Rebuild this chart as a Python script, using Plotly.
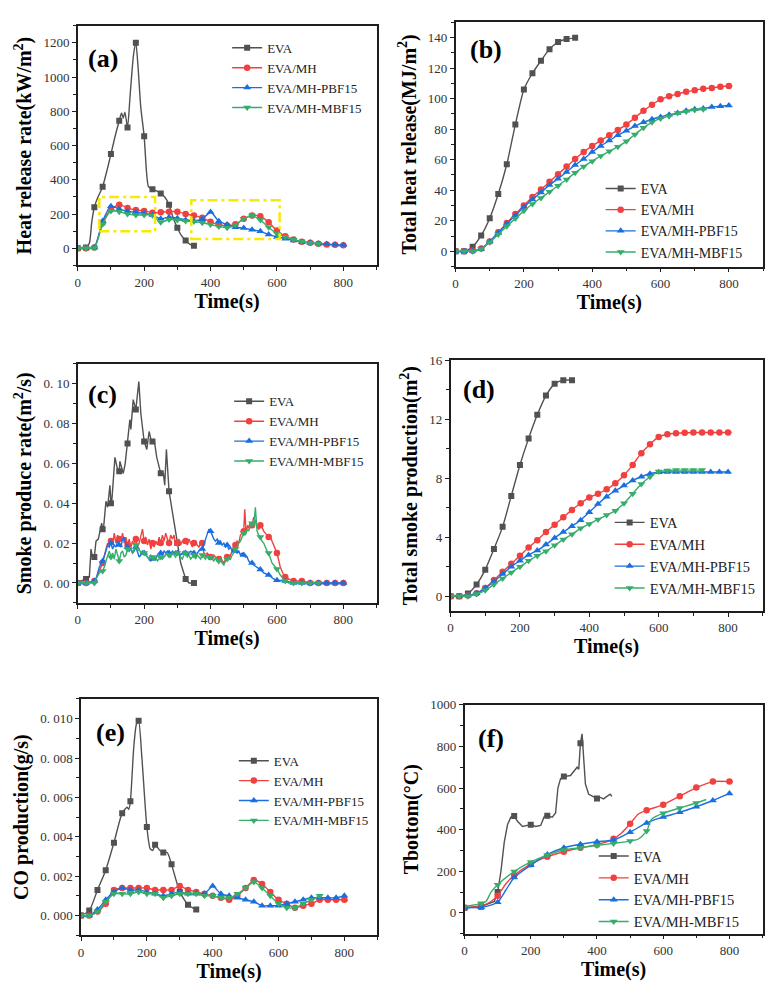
import plotly.graph_objects as go

PAGE_W, PAGE_H = 783, 1000
OFF = 8  # default body margin of the html page
W, H = PAGE_W - 2 * OFF, PAGE_H - 2 * OFF

names = ["EVA", "EVA/MH", "EVA/MH-PBF15", "EVA/MH-MBF15"]
colors = ["#515151", "#F14040", "#1A6FDF", "#37AD6B"]
symbols = ["square", "circle", "triangle-up", "triangle-down"]
msizes = [6, 6.5, 7, 7]

# common time grids (s)
t_eva = [0, 25, 50, 75, 100, 125, 150, 175, 200, 225, 250, 275, 300, 325, 350]
t_mh = [0, 25, 50, 75, 100, 125, 150, 175, 200, 225, 250, 275, 300, 325, 350, 375, 400,
        425, 450, 475, 500, 525, 550, 575, 600, 625, 650, 675, 700, 725, 750, 775, 800, 810]
t_pbf = [0, 25, 50, 75, 100, 125, 150, 175, 200, 225, 250, 275, 300, 325, 350, 375, 400,
         425, 450, 475, 500, 525, 550, 575, 600, 625, 650, 675, 700, 725, 750, 775, 800]
t_mbf = [0, 25, 50, 75, 100, 125, 150, 175, 200, 225, 250, 275, 300, 325, 350, 375, 400,
         425, 450, 475, 500, 525, 550, 575, 600, 625, 650, 675, 700, 725]

# (a) heat release rate (kW/m2)
a_eva_t = [0, 25, 35, 42, 50, 60, 75, 90, 100, 112, 125, 132, 137, 142, 150, 158, 168, 175,
           182, 190, 200, 207, 213, 225, 237, 250, 262, 275, 287, 300, 312, 325, 337, 350]
a_eva = [0, 5, 30, 150, 240, 295, 360, 470, 550, 650, 745, 790, 760, 795, 705, 900, 1130, 1200,
         1050, 820, 654, 450, 360, 345, 335, 320, 300, 255, 180, 120, 75, 45, 25, 15]
a_mh = [0, 0, 5, 150, 228, 255, 236, 224, 218, 208, 210, 214, 214, 201, 191, 178, 155,
        137, 133, 140, 172, 191, 188, 152, 104, 71, 52, 38, 32, 27, 23, 21, 18, 18]
a_pbf = [0, 0, 5, 160, 245, 230, 216, 210, 205, 195, 172, 182, 176, 166, 160, 170, 212,
         158, 139, 123, 118, 108, 99, 81, 66, 56, 46, 36, 32, 27, 25, 21, 20]
a_mbf = [0, 0, 3, 140, 218, 214, 200, 195, 195, 193, 152, 168, 166, 160, 156, 149, 139,
         127, 120, 137, 172, 191, 165, 123, 85, 68, 50, 40, 32, 26]

# (b) total heat release (MJ/m2)
b_eva = [0, 0, 3, 10.4, 21.7, 37.5, 57, 83, 106, 116.6, 124.8, 132.4, 137, 139, 139.8]
b_mh = [0, 0, 0.3, 1.8, 6.5, 12.5, 18.5, 24.5, 30, 35.5, 40.5, 45.5, 50.5, 55.5, 60.5, 65, 69,
        72.5, 76, 79.5, 83, 87.5, 92, 96, 99.5, 101.5, 103, 104.5, 105.5, 106.5, 107, 107.8, 108.3, 108.3]
b_pbf = [0, 0, 0.3, 1.5, 6.5, 12, 18, 23.5, 29, 34, 38.5, 43.5, 47.5, 52, 56.5, 60.5, 65,
         69, 72.5, 76, 79, 82, 84.5, 86.5, 88, 89.5, 90.5, 92, 93, 93.5, 94.5, 95, 95.5]
b_mbf = [0, 0, 0, 1.5, 6, 11, 16.5, 21.5, 26.5, 31, 35, 39, 43, 47, 51.5, 55.5, 59,
         62.5, 65.5, 68.5, 72, 76.5, 81, 84.5, 87, 88.5, 90.5, 91.5, 92.5, 93]

# (c) smoke produce rate (m2/s)
c_eva_t = [0, 25, 35, 40, 45, 50, 55, 62, 72, 75, 78, 85, 90, 97, 100, 103, 112, 120, 125, 127,
           137, 143, 150, 157, 160, 167, 175, 184, 190, 200, 208, 215, 223, 225, 230, 238, 250,
           258, 262, 267, 275, 290, 300, 310, 325, 335, 350]
c_eva = [0, 0.002, 0.003, 0.017, 0.012, 0.013, 0.021, 0.022, 0.030, 0.027, 0.028, 0.041, 0.038,
         0.049, 0.040, 0.042, 0.063, 0.057, 0.056, 0.061, 0.055, 0.060, 0.070, 0.082, 0.077, 0.092,
         0.087, 0.101, 0.085, 0.071, 0.067, 0.076, 0.070, 0.071, 0.072, 0.063, 0.055, 0.055, 0.049,
         0.067, 0.046, 0.030, 0.020, 0.010, 0.002, 0.000, 0.000]
c_mh_t = [0, 25, 50, 55, 65, 75, 85, 90, 95, 100,
          105, 110, 115, 120, 125, 130, 135, 140, 145, 150,
          155, 160, 165, 170, 175, 180, 185, 190, 195, 200,
          205, 210, 215, 220, 225, 230, 235, 240, 245, 250,
          255, 260, 265, 270, 275, 280, 285, 290, 295, 300,
          305, 310, 315, 320, 325, 330, 335, 340, 345, 350,
          355, 360, 365, 370, 375, 380, 385, 390, 395, 400,
          405, 410, 415, 420, 425, 430, 435, 440, 445, 450,
          455, 460, 465, 470, 475, 480, 485, 490, 495, 500,
          503, 507, 512, 517, 522, 525, 530, 535, 540, 545,
          550, 555, 560, 565, 570, 575, 580, 585, 590, 595,
          600, 610, 620, 625, 635, 650, 675, 700, 725, 750,
          775, 800, 810]
c_mh = [0, 0, 0.001, 0.002, 0.006, 0.010, 0.017, 0.020, 0.019, 0.021,
        0.019, 0.025, 0.020, 0.024, 0.022, 0.021, 0.025, 0.020, 0.023, 0.019,
        0.022, 0.018, 0.021, 0.019, 0.022, 0.018, 0.020, 0.023, 0.027, 0.021,
        0.023, 0.019, 0.022, 0.017, 0.020, 0.018, 0.021, 0.019, 0.023, 0.020,
        0.024, 0.021, 0.025, 0.022, 0.020, 0.024, 0.022, 0.024, 0.019, 0.020,
        0.022, 0.019, 0.021, 0.020, 0.021, 0.019, 0.022, 0.020, 0.018, 0.020,
        0.021, 0.019, 0.018, 0.020, 0.020, 0.015, 0.013, 0.015, 0.014, 0.013,
        0.012, 0.014, 0.013, 0.011, 0.012, 0.013, 0.011, 0.010, 0.012, 0.013,
        0.012, 0.014, 0.016, 0.018, 0.019, 0.021, 0.020, 0.024, 0.025, 0.026,
        0.037, 0.025, 0.029, 0.027, 0.030, 0.029, 0.033, 0.031, 0.028, 0.027,
        0.029, 0.028, 0.026, 0.025, 0.024, 0.023, 0.023, 0.021, 0.019, 0.017,
        0.015, 0.008, 0.004, 0.003, 0.002, 0.001, 0.001, 0.000, 0.000, 0.000,
        0.000, 0.000, 0.000]
c_pbf_t = [0, 25, 50, 55, 65, 75, 85, 90, 95, 100,
           105, 110, 115, 120, 125, 130, 135, 140, 145, 150,
           155, 160, 165, 170, 175, 180, 185, 190, 195, 200,
           205, 210, 215, 220, 225, 230, 235, 240, 245, 250,
           255, 260, 265, 270, 275, 280, 285, 290, 295, 300,
           310, 320, 325, 330, 340, 350, 355, 360, 365, 370,
           375, 380, 385, 390, 395, 400, 405, 410, 415, 420,
           425, 430, 435, 440, 445, 450, 455, 460, 465, 470,
           475, 480, 485, 490, 495, 500, 505, 510, 515, 520,
           525, 530, 540, 550, 560, 575, 590, 600, 625, 650,
           675, 700, 725, 750, 775, 800]
c_pbf = [0, 0, 0.001, 0.002, 0.008, 0.011, 0.016, 0.019, 0.018, 0.020,
         0.017, 0.019, 0.018, 0.021, 0.019, 0.018, 0.022, 0.023, 0.019, 0.018,
         0.016, 0.017, 0.015, 0.016, 0.018, 0.015, 0.013, 0.014, 0.016, 0.015,
         0.014, 0.013, 0.012, 0.011, 0.012, 0.013, 0.012, 0.014, 0.013, 0.015,
         0.014, 0.016, 0.015, 0.016, 0.015, 0.014, 0.016, 0.015, 0.016, 0.015,
         0.014, 0.016, 0.015, 0.014, 0.016, 0.015, 0.013, 0.015, 0.016, 0.017,
         0.017, 0.019, 0.022, 0.025, 0.027, 0.026, 0.024, 0.022, 0.021, 0.022,
         0.020, 0.021, 0.019, 0.020, 0.018, 0.019, 0.017, 0.018, 0.016, 0.017,
         0.016, 0.015, 0.016, 0.014, 0.015, 0.014, 0.013, 0.013, 0.011, 0.010,
         0.010, 0.009, 0.008, 0.0067, 0.005, 0.004, 0.002, 0.0014, 0.001, 0.000,
         0.000, 0.000, 0.000, 0.000, 0.000, 0.000]
c_mbf_t = [0, 25, 50, 55, 65, 75, 80, 85, 90, 95,
           100, 105, 110, 115, 120, 125, 130, 135, 140, 145, 150,
           155, 160, 165, 170, 175, 180, 185, 190, 195, 200,
           205, 210, 215, 220, 225, 230, 235, 240, 245, 250,
           255, 260, 265, 270, 275, 280, 285, 290, 295, 300,
           305, 310, 315, 320, 325, 330, 335, 340, 345, 350,
           355, 360, 365, 370, 375, 380, 385, 390, 395, 400,
           405, 410, 415, 420, 425, 430, 435, 440, 445, 450,
           455, 460, 465, 470, 475, 480, 485, 490, 495, 500,
           505, 510, 515, 520, 525, 530, 535, 540, 545, 550,
           555, 560, 565, 570, 575, 580, 585, 590, 595, 600,
           610, 620, 625, 635, 650, 675, 700, 725, 730]
c_mbf = [0, 0, 0.000, 0.002, 0.005, 0.006, 0.008, 0.011, 0.014, 0.016,
         0.013, 0.015, 0.012, 0.017, 0.014, 0.011, 0.015, 0.016, 0.013, 0.014, 0.017,
         0.016, 0.018, 0.015, 0.017, 0.019, 0.016, 0.017, 0.015, 0.016, 0.015,
         0.014, 0.013, 0.012, 0.014, 0.013, 0.012, 0.013, 0.011, 0.012, 0.013,
         0.012, 0.013, 0.014, 0.015, 0.014, 0.013, 0.015, 0.014, 0.013, 0.015,
         0.014, 0.013, 0.012, 0.014, 0.015, 0.013, 0.014, 0.012, 0.013, 0.014,
         0.012, 0.014, 0.013, 0.012, 0.014, 0.013, 0.012, 0.014, 0.012, 0.013,
         0.012, 0.011, 0.013, 0.012, 0.011, 0.012, 0.010, 0.009, 0.011, 0.012,
         0.013, 0.012, 0.014, 0.015, 0.017, 0.018, 0.020, 0.021, 0.023, 0.025,
         0.024, 0.027, 0.026, 0.029, 0.030, 0.028, 0.038, 0.026, 0.024, 0.023,
         0.021, 0.020, 0.018, 0.016, 0.015, 0.012, 0.010, 0.009, 0.008, 0.007,
         0.004, 0.002, 0.001, 0.000, 0.000, 0.000, 0.000, 0.000, 0.000]

# (d) total smoke production (m2)
d_eva = [0, 0, 0.18, 0.8, 1.8, 3.2, 4.7, 6.8, 8.9, 10.7, 12.3, 13.6, 14.4, 14.65, 14.65]
d_mh = [0, 0, 0.05, 0.2, 0.55, 1.1, 1.65, 2.2, 2.75, 3.3, 3.8, 4.35, 4.85, 5.35, 5.85, 6.3, 6.7,
        6.95, 7.25, 7.65, 8.2, 8.9, 9.7, 10.3, 10.8, 10.98, 11.05, 11.08, 11.1, 11.1, 11.1, 11.1, 11.1, 11.1]
d_pbf = [0, 0, 0.05, 0.2, 0.55, 1.0, 1.5, 2.0, 2.4, 2.8, 3.1, 3.5, 3.95, 4.35, 4.75, 5.15, 5.7,
         6.25, 6.75, 7.15, 7.5, 7.85, 8.1, 8.3, 8.4, 8.42, 8.42, 8.42, 8.42, 8.42, 8.42, 8.42, 8.42]
d_mbf = [0, 0, 0, 0.15, 0.4, 0.8, 1.2, 1.6, 2.0, 2.4, 2.75, 3.05, 3.45, 3.85, 4.2, 4.6, 4.9,
         5.2, 5.5, 5.8, 6.3, 6.95, 7.6, 8.1, 8.45, 8.52, 8.55, 8.55, 8.55, 8.55]

# (e) CO production (g/s)
e_eva_t = [0, 25, 50, 75, 100, 125, 140, 145, 150, 160, 168, 175, 185, 200, 210, 218, 225, 240,
           250, 262, 275, 300, 325, 350]
e_eva = [0, 0.00025, 0.0013, 0.0023, 0.0037, 0.0052, 0.0055, 0.0054, 0.0058, 0.0085, 0.0097,
         0.0099, 0.0080, 0.0045, 0.0034, 0.0033, 0.0036, 0.0033, 0.0032, 0.0032, 0.0026, 0.0012,
         0.00055, 0.0003]
e_mh = [0, 0, 0.0002, 0.0006, 0.0013, 0.0014, 0.0014, 0.0014, 0.0014, 0.0013, 0.0013, 0.0013,
        0.0015, 0.0013, 0.0012, 0.0011, 0.0010, 0.0009, 0.0008, 0.0010, 0.0014, 0.0018, 0.0016,
        0.0012, 0.0008, 0.0006, 0.0004, 0.0005, 0.0006, 0.0008, 0.0008, 0.0008, 0.0008, 0.00075]
e_pbf = [0, 0, 0.0003, 0.0008, 0.0012, 0.0014, 0.0013, 0.0013, 0.0012, 0.0011, 0.0010, 0.0011,
         0.0012, 0.0011, 0.0011, 0.0011, 0.0015, 0.0011, 0.0010, 0.0009, 0.0008, 0.0007, 0.0005,
         0.0005, 0.0005, 0.0006, 0.0007, 0.0008, 0.0009, 0.0009, 0.0009, 0.0009, 0.0010]
e_mbf = [0, 0, 0.0002, 0.0007, 0.0011, 0.0011, 0.0011, 0.0012, 0.0011, 0.0011, 0.0009, 0.0010,
         0.0011, 0.0011, 0.0011, 0.0010, 0.0010, 0.0009, 0.0009, 0.0011, 0.0014, 0.0017, 0.0014,
         0.0010, 0.0006, 0.0004, 0.0004, 0.0006, 0.0008, 0.0010]

# (f) bottom temperature (degC)
f_eva_t = [0, 50, 90, 100, 110, 120, 130, 140, 150, 160, 175, 200, 215, 230, 240, 245, 250, 265,
           275, 282, 290, 300, 320, 335, 340, 345, 350, 355, 360, 365, 375, 390, 400, 410, 420,
           430, 440, 445]
f_eva = [25, 30, 55, 100, 200, 340, 425, 460, 466, 440, 415, 424, 415, 420, 460, 470, 467, 460,
         480, 600, 645, 655, 660, 690, 700, 690, 815, 860, 720, 620, 570, 560, 550, 555, 548,
         560, 570, 560]
f_mh_t = [0, 50, 75, 100, 125, 150, 200, 250, 300, 350, 400, 450, 475, 500, 525, 550, 600, 650,
          700, 750, 800, 810]
f_mh = [25, 35, 50, 83, 140, 181, 234, 270, 294, 313, 328, 356, 385, 428, 475, 493, 520, 561,
        602, 631, 631, 630]
f_pbf_t = [0, 50, 75, 100, 125, 150, 200, 250, 300, 350, 400, 450, 500, 550, 600, 650, 700, 750, 800]
f_pbf = [25, 27, 35, 51, 110, 170, 229, 281, 313, 330, 342, 350, 388, 432, 461, 483, 510, 540, 574]
f_mbf_t = [0, 50, 65, 80, 100, 150, 200, 250, 300, 350, 400, 450, 500, 525, 550, 565, 600, 650,
           700, 730]
f_mbf = [30, 46, 55, 100, 135, 199, 245, 278, 302, 313, 324, 334, 345, 355, 393, 450, 479, 504,
         528, 545]

c_ticks = [0, 0.02, 0.04, 0.06, 0.08, 0.10]
c_ticktext = ["0. 00", "0. 02", "0. 04", "0. 06", "0. 08", "0. 10"]
e_ticks = [0, 0.002, 0.004, 0.006, 0.008, 0.010]
e_ticktext = ["0. 000", "0. 002", "0. 004", "0. 006", "0. 008", "0. 010"]

SERIF = "Liberation Serif"
INK = "#1e1e1e"


def fx(px):
    return (px - OFF) / W


def fy(py):
    return 1 - (py - OFF) / H


# panel geometry in page pixels: left, right, top, bottom
panels = [
    dict(label="(a)", box=(75, 375, 18.75, 260.25), yr=[-100, 1300], dt=200, mdt=100,
         ytitle="Heat release rate(kW/m<sup>2</sup>)",
         series=[(a_eva_t, a_eva), (t_mh, a_mh), (t_pbf, a_pbf), (t_mbf, a_mbf)],
         shapes=["spline"] * 4, step=25, lab=(100, 51.5),
         leg=(225, 26, 13)),
    dict(label="(b)", box=(454.3, 763, 15.3, 261.4), yr=[-10, 150], dt=20, mdt=10,
         ytitle="Total heat release(MJ/m<sup>2</sup>)",
         series=[(t_eva, b_eva), (t_mh, b_mh), (t_pbf, b_pbf), (t_mbf, b_mbf)],
         shapes=["spline"] * 4, step=25, lab=(485, 42.5),
         leg=(600, 167, 14)),
    dict(label="(c)", box=(75, 375, 359.2, 600.1), yr=[-0.01, 0.11], dt=0.02, mdt=0.01,
         ticks=(c_ticks, c_ticktext),
         ytitle="Smoke produce rate(m<sup>2</sup>/s)",
         series=[(c_eva_t, c_eva), (c_mh_t, c_mh), (c_pbf_t, c_pbf), (c_mbf_t, c_mbf)],
         shapes=["linear"] * 4, step=25, lab=(100, 390),
         leg=(227, 382, 13)),
    dict(label="(d)", box=(449.3, 762.7, 355.7, 608.2), yr=[-1, 16], dt=4, mdt=2,
         ytitle="Total smoke production(m<sup>2</sup>)",
         series=[(t_eva, d_eva), (t_mh, d_mh), (t_pbf, d_pbf), (t_mbf, d_mbf)],
         shapes=["spline"] * 4, step=25, lab=(478, 385.5),
         leg=(609, 503, 14.5)),
    dict(label="(e)", box=(78.3, 375.7, 696.9, 934.8), yr=[-0.001, 0.011], dt=0.002, mdt=0.001,
         ticks=(e_ticks, e_ticktext),
         ytitle="CO production(g/s)",
         series=[(e_eva_t, e_eva), (t_mh, e_mh), (t_pbf, e_pbf), (t_mbf, e_mbf)],
         shapes=["spline"] * 4, step=25, lab=(107.5, 731),
         leg=(231.7, 744, 13)),
    dict(label="(f)", box=(463.3, 762.5, 702.7, 933.3), yr=[-100, 1000], dt=200, mdt=100,
         ytitle="Tbottom(°C)",
         series=[(f_eva_t, f_eva), (f_mh_t, f_mh), (f_pbf_t, f_pbf), (f_mbf_t, f_mbf)],
         shapes=["linear", "spline", "spline", "spline"], step=50, lab=(490, 736.5),
         leg=(593, 839, 14.5)),
]

fig = go.Figure()
layout = dict(width=W, height=H, margin=dict(l=0, r=0, t=0, b=0),
              paper_bgcolor="white", plot_bgcolor="white", annotations=[], shapes=[])

for i, p in enumerate(panels, start=1):
    sfx = "" if i == 1 else str(i)
    xa, ya, lg = "x" + sfx, "y" + sfx, "legend" + sfx
    for k, (t, v) in enumerate(p["series"]):
        assert len(t) == len(v), (p["label"], k, len(t), len(v))
        fig.add_trace(go.Scatter(
            x=t, y=v, mode="lines", xaxis=xa, yaxis=ya, showlegend=False, hoverinfo="skip",
            line=dict(color=colors[k], width=1.4, shape=p["shapes"][k], smoothing=0.6)))
        mt = [a for a in t if a % p["step"] == 0]
        mv = [b for a, b in zip(t, v) if a % p["step"] == 0]
        fig.add_trace(go.Scatter(
            x=mt, y=mv, mode="markers", xaxis=xa, yaxis=ya, showlegend=False,
            marker=dict(symbol=symbols[k], size=msizes[k], color=colors[k])))
    for k in range(4):
        fig.add_trace(go.Scatter(
            x=[None], y=[None], mode="lines+markers", name=names[k], xaxis=xa, yaxis=ya,
            legend=lg, line=dict(color=colors[k], width=1.4),
            marker=dict(symbol=symbols[k], size=msizes[k], color=colors[k])))

    l, r, t_, b_ = p["box"]
    axis_common = dict(showline=True, mirror=True, linecolor=INK, linewidth=1.5,
                       ticks="outside", ticklen=4, tickwidth=1.2, tickcolor=INK,
                       showgrid=False, zeroline=False,
                       tickfont=dict(family=SERIF, size=13, color="#333333"))
    layout["xaxis" + sfx] = dict(
        axis_common, domain=[fx(l), fx(r)], anchor=ya, range=[0, 900], dtick=200, tick0=0,
        minor=dict(ticks="outside", ticklen=3, tickcolor=INK, dtick=100, tick0=0),
        title=dict(text="<b>Time(s)</b>", standoff=0,
                   font=dict(family=SERIF, size=20, color="black")))
    ydict = dict(
        axis_common, domain=[fy(b_), fy(t_)], anchor=xa, range=p["yr"],
        minor=dict(ticks="outside", ticklen=3, tickcolor=INK, dtick=p["mdt"], tick0=0),
        title=dict(text="<b>" + p["ytitle"] + "</b>", standoff=6,
                   font=dict(family=SERIF, size=20, color="black")))
    if "ticks" in p:
        ydict.update(tickmode="array", tickvals=p["ticks"][0], ticktext=p["ticks"][1])
    else:
        ydict.update(dtick=p["dt"], tick0=0)
    layout["yaxis" + sfx] = ydict

    lx, ly, fs = p["leg"]
    layout[lg] = dict(x=fx(lx), y=fy(ly), xanchor="left", yanchor="top",
                      bgcolor="rgba(0,0,0,0)", borderwidth=0, traceorder="normal",
                      font=dict(family=SERIF, size=fs, color="#222222"))

    cx, cy = p["lab"]
    layout["annotations"].append(dict(
        text="<b>" + p["label"] + "</b>", x=fx(cx), y=fy(cy), xref="paper", yref="paper",
        xanchor="center", yanchor="middle", showarrow=False,
        font=dict(family=SERIF, size=26, color="black")))

# highlighted regions in (a)
for x0, x1, y0, y1 in [(65, 233, 100, 300), (342, 608, 55, 280)]:
    layout["shapes"].append(dict(
        type="rect", xref="x", yref="y", x0=x0, x1=x1, y0=y0, y1=y1,
        line=dict(color="#F7E900", width=2.5, dash="10px,4px,3px,4px")))

fig.update_layout(layout)
fig.write_html("out.html")
